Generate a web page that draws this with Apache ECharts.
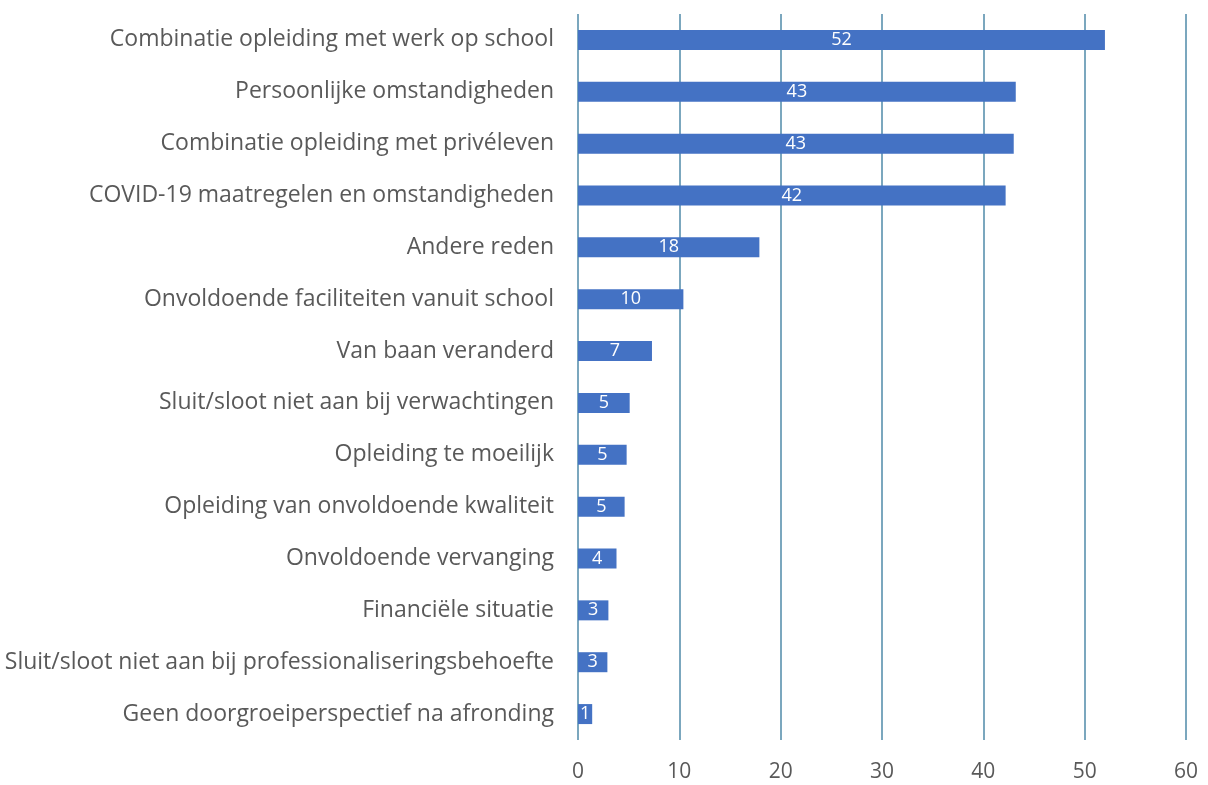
<!DOCTYPE html>
<html>
<head>
<meta charset="utf-8">
<script src="https://cdn.jsdelivr.net/npm/echarts@6/dist/echarts.min.js"></script>
<style>html,body{margin:0;padding:0;background:#fff}#c{width:1208px;height:785px}</style>
</head>
<body>
<div id="c"></div>
<script>
const categories = [
  "Combinatie opleiding met werk op school",
  "Persoonlijke omstandigheden",
  "Combinatie opleiding met privéleven",
  "COVID-19 maatregelen en omstandigheden",
  "Andere reden",
  "Onvoldoende faciliteiten vanuit school",
  "Van baan veranderd",
  "Sluit/sloot niet aan bij verwachtingen",
  "Opleiding te moeilijk",
  "Opleiding van onvoldoende kwaliteit",
  "Onvoldoende vervanging",
  "Financiële situatie",
  "Sluit/sloot niet aan bij professionaliseringsbehoefte",
  "Geen doorgroeiperspectief na afronding"
];
const values = [52.0, 43.2, 43.0, 42.2, 17.9, 10.4, 7.3, 5.1, 4.8, 4.6, 3.8, 3.0, 2.9, 1.4];
const xTicks = [0, 10, 20, 30, 40, 50, 60];

const chart = echarts.init(document.getElementById('c'), null, {renderer: 'canvas'});
chart.setOption({
  animation: false,
  backgroundColor: '#ffffff',
  textStyle: {fontFamily: '"Open Sans", "Noto Sans", sans-serif'},
  grid: {left: 578, right: 22, top: 14, bottom: 45, containLabel: false},
  xAxis: {
    type: 'value',
    min: xTicks[0],
    max: xTicks[xTicks.length - 1],
    interval: 10,
    axisLine: {show: false},
    axisTick: {show: false},
    axisLabel: {color: '#595959', fontSize: 21, margin: 22, fontFamily: '"Open Sans", sans-serif'},
    splitLine: {show: true, lineStyle: {color: '#4f8aa8', width: 1.5}}
  },
  yAxis: {
    type: 'category',
    data: categories,
    inverse: true,
    axisLine: {show: false},
    axisTick: {show: false},
    axisLabel: {color: '#595959', fontSize: 23, margin: 24, fontFamily: '"Open Sans", sans-serif'},
    splitLine: {show: false}
  },
  series: [{
    type: 'bar',
    data: values,
    barWidth: 20,
    itemStyle: {color: '#4472c4'},
    label: {
      show: true,
      position: 'inside',
      color: '#ffffff',
      fontSize: 18,
      fontFamily: '"Open Sans", sans-serif',
      formatter: p => Math.round(p.value)
    }
  }]
});
</script>
</body>
</html>
